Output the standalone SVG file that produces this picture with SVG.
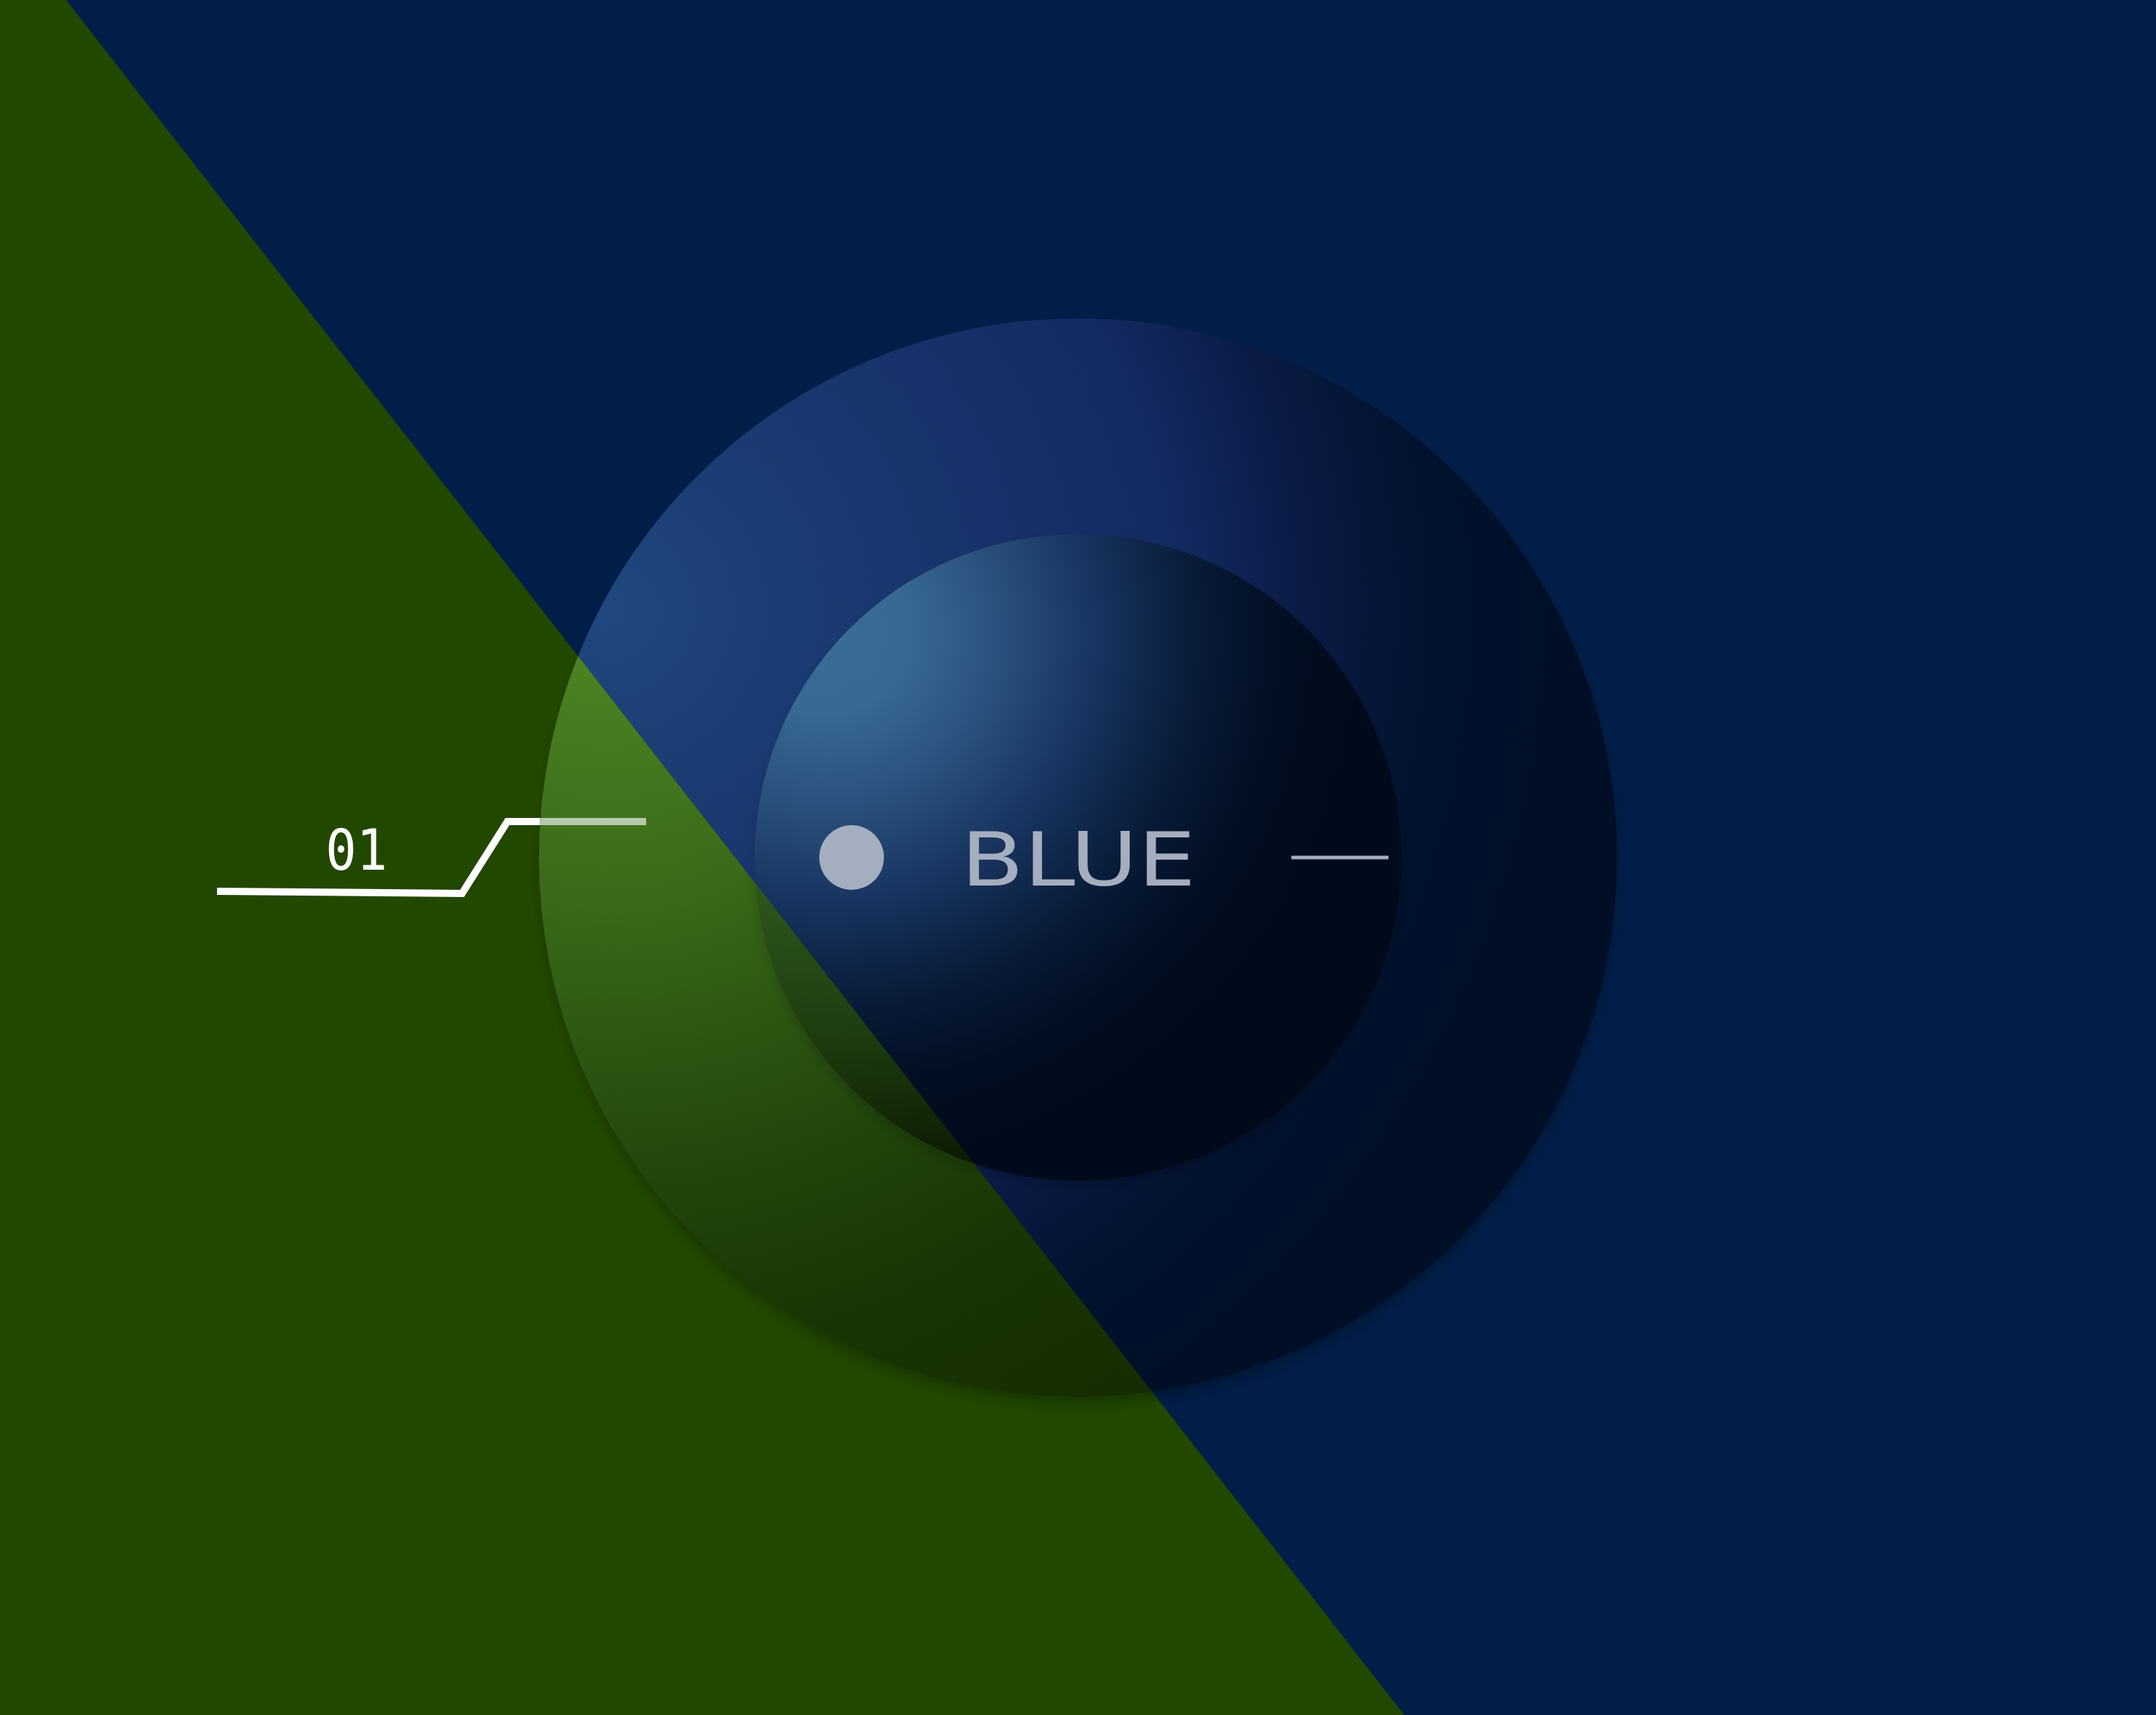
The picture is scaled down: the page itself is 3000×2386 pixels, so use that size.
<svg xmlns="http://www.w3.org/2000/svg" width="3000" height="2386" viewBox="0 0 3000 2386">
<defs>
<style>
.label{font-family:"DejaVu Sans","Liberation Sans",sans-serif;fill:#a5aebe}
.num{font-family:"DejaVu Sans Mono","Liberation Mono",monospace;fill:#ffffff}
.wire{fill:none;stroke:#ffffff;stroke-width:10;stroke-linejoin:miter;stroke-linecap:butt}
</style>
<clipPath id="clipBlue"><polygon points="92,0 3000,0 3000,2386 1954,2386"/></clipPath>
<clipPath id="clipGreen"><polygon points="0,0 92,0 1954,2386 0,2386"/></clipPath>
<radialGradient id="outerBlue" gradientUnits="userSpaceOnUse" cx="850" cy="850" r="1350">
<stop offset="0" stop-color="#20487f"/>
<stop offset="0.15" stop-color="#1c3e74"/>
<stop offset="0.45" stop-color="#163068"/>
<stop offset="0.58" stop-color="#142a62"/>
<stop offset="0.72" stop-color="#0a1a44"/>
<stop offset="0.85" stop-color="#02122e"/>
<stop offset="1" stop-color="#000e26"/>
</radialGradient>
<radialGradient id="outerGreen" gradientUnits="userSpaceOnUse" cx="850" cy="850" r="1350">
<stop offset="0" stop-color="#4e8a24"/>
<stop offset="0.12" stop-color="#467c20"/>
<stop offset="0.3" stop-color="#3a6a1a"/>
<stop offset="0.45" stop-color="#2e5612"/>
<stop offset="0.6" stop-color="#22440a"/>
<stop offset="0.75" stop-color="#1a3604"/>
<stop offset="1" stop-color="#142c00"/>
</radialGradient>
<radialGradient id="innerBlue" gradientUnits="userSpaceOnUse" cx="1150" cy="880" r="750">
<stop offset="0" stop-color="#3a6c98"/>
<stop offset="0.15" stop-color="#386894"/>
<stop offset="0.3" stop-color="#2c5480"/>
<stop offset="0.5" stop-color="#183460"/>
<stop offset="0.7" stop-color="#081a36"/>
<stop offset="0.85" stop-color="#020e22"/>
<stop offset="1" stop-color="#000a1a"/>
</radialGradient>
<radialGradient id="innerGreen" gradientUnits="userSpaceOnUse" cx="1150" cy="880" r="750">
<stop offset="0" stop-color="#5aa038"/>
<stop offset="0.4" stop-color="#34621e"/>
<stop offset="0.55" stop-color="#2a5018"/>
<stop offset="0.75" stop-color="#1e3c10"/>
<stop offset="1" stop-color="#0c1c04"/>
</radialGradient>
<filter id="soft" x="-20%" y="-20%" width="140%" height="140%"><feGaussianBlur stdDeviation="10"/></filter>
</defs>

<g id="background">
<rect x="0" y="0" width="3000" height="2386" fill="#001e48"/>
<polygon points="0,0 92,0 1954,2386 0,2386" fill="#224800"/>
</g>

<g id="disc">
<circle cx="1500" cy="1205" r="746" fill="#000000" fill-opacity="0.3" filter="url(#soft)"/>
<g clip-path="url(#clipBlue)">
<circle cx="1500" cy="1193" r="750" fill="url(#outerBlue)"/>
</g>
<g clip-path="url(#clipGreen)">
<circle cx="1500" cy="1193" r="750" fill="url(#outerGreen)"/>
</g>
<circle cx="1500" cy="1203" r="447" fill="#000000" fill-opacity="0.22" filter="url(#soft)"/>
<g clip-path="url(#clipBlue)">
<circle cx="1500" cy="1193" r="450" fill="url(#innerBlue)"/>
</g>
<g clip-path="url(#clipGreen)">
<circle cx="1500" cy="1193" r="450" fill="url(#innerGreen)"/>
</g>
</g>

<g id="connectors">
<polyline class="wire" points="302,1240 643,1243 706,1143 751,1143"/>
<line class="wire" x1="751" y1="1143" x2="899" y2="1143" stroke-opacity="0.62"/>
<line x1="1797" y1="1193" x2="1932" y2="1193" stroke="#a5aebe" stroke-width="5"/>
</g>

<g id="node-01">
<text class="num" x="453" y="1210" font-size="78" textLength="86" lengthAdjust="spacingAndGlyphs">01</text>
</g>

<g id="node-blue">
<circle cx="1185" cy="1193" r="45" fill="#a5aebe"/>
<text class="label" x="1337" y="1232" font-size="104" textLength="327" lengthAdjust="spacingAndGlyphs">BLUE</text>
</g>
</svg>
